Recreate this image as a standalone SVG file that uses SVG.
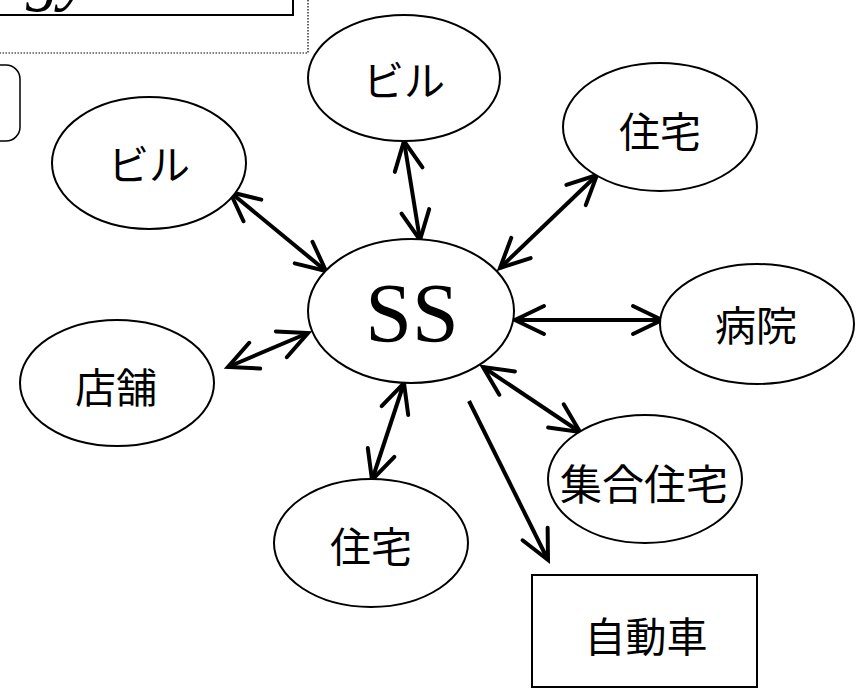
<svg xmlns="http://www.w3.org/2000/svg" width="863" height="689" viewBox="0 0 863 689">
<style>
.node{fill:#fff;stroke:#000;stroke-width:2}
.lbl{font-family:"Noto Sans CJK JP","Noto Sans CJK SC",sans-serif;font-size:41px;text-anchor:middle;fill:#000}
.conn{stroke:#000;stroke-width:4;fill:none}
</style>
<defs>
<marker id="ah" markerUnits="userSpaceOnUse" viewBox="-34 -17 38 34" refX="0" refY="0" markerWidth="38" markerHeight="34" orient="auto-start-reverse" overflow="visible">
<path d="M-29,-14 L0,0 L-29,14" fill="none" stroke="#000" stroke-width="4" stroke-linecap="round" stroke-linejoin="miter"/>
</marker>
</defs>
<rect width="863" height="689" fill="#fff"/>
<g id="frame">
<rect x="-20" y="-20" width="328" height="73" fill="none" stroke="#000" stroke-width="1.2" stroke-dasharray="1.5,1.5"/>
<rect x="-20" y="-20" width="313" height="35" fill="#fff" stroke="#000" stroke-width="2"/>
<text x="26" y="-2" font-family="Liberation Serif,serif" font-style="italic" font-size="68">gy</text>
<rect x="-30" y="65" width="50" height="76" rx="14" fill="#fff" stroke="#000" stroke-width="1.5"/>
</g>
<g id="connectors">
<line class="conn" x1="230" y1="192" x2="326" y2="271" marker-start="url(#ah)" marker-end="url(#ah)"/>
<line class="conn" x1="404" y1="141" x2="420" y2="240" marker-start="url(#ah)" marker-end="url(#ah)"/>
<line class="conn" x1="597" y1="175" x2="500" y2="268" marker-start="url(#ah)" marker-end="url(#ah)"/>
<line class="conn" x1="515" y1="320" x2="662" y2="320" marker-start="url(#ah)" marker-end="url(#ah)"/>
<line class="conn" x1="483" y1="367" x2="580" y2="432" marker-start="url(#ah)" marker-end="url(#ah)"/>
<line class="conn" x1="469" y1="401" x2="548" y2="560" marker-end="url(#ah)"/>
<line class="conn" x1="404" y1="383" x2="372" y2="480" marker-start="url(#ah)" marker-end="url(#ah)"/>
<line class="conn" x1="228" y1="367" x2="308" y2="333" marker-start="url(#ah)" marker-end="url(#ah)"/>
</g>
<g id="n-bill-left">
<ellipse class="node" cx="149" cy="163" rx="97" ry="66"/>
<text class="lbl" x="149" y="180">ビル</text>
</g>
<g id="n-bill-top">
<ellipse class="node" cx="404" cy="78" rx="96" ry="63"/>
<text class="lbl" x="404" y="96">ビル</text>
</g>
<g id="n-jutaku-top">
<ellipse class="node" cx="660" cy="127" rx="97" ry="64"/>
<text class="lbl" x="660" y="147">住宅</text>
</g>
<g id="n-ss">
<ellipse class="node" cx="411" cy="311" rx="103" ry="72"/>
<text x="412" y="342" font-family="Liberation Serif,serif" font-size="84" text-anchor="middle">SS</text>
</g>
<g id="n-byoin">
<ellipse class="node" cx="757" cy="324" rx="97" ry="60"/>
<text class="lbl" x="756" y="341">病院</text>
</g>
<g id="n-shugo">
<ellipse class="node" cx="645" cy="479" rx="97" ry="64"/>
<text class="lbl" x="644" y="500" style="font-size:42px">集合住宅</text>
</g>
<g id="n-tenpo">
<ellipse class="node" cx="117" cy="383" rx="97" ry="63"/>
<text class="lbl" x="116" y="403">店舗</text>
</g>
<g id="n-jutaku-bottom">
<ellipse class="node" cx="371" cy="543" rx="97" ry="64"/>
<text class="lbl" x="371" y="562">住宅</text>
</g>
<g id="n-jidosha">
<rect class="node" x="532" y="575" width="225" height="112"/>
<text class="lbl" x="646" y="652">自動車</text>
</g>
</svg>
